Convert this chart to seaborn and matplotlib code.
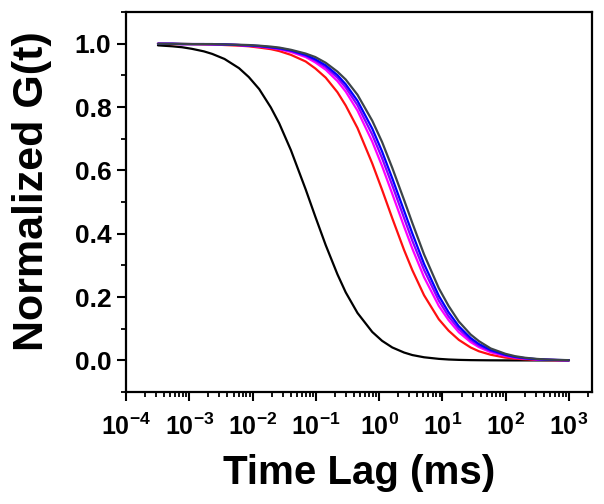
import pandas as pd
import numpy as np
import matplotlib
matplotlib.use("Agg")
import matplotlib.pyplot as plt
import matplotlib.ticker as mticker
import seaborn as sns

# time lag (ms) and normalized correlation curves
time_lag = [0.00032, 0.00054, 0.00077, 0.0011, 0.0017, 0.0023, 0.0036, 0.0061, 0.0087,
            0.0127, 0.0194, 0.0263, 0.0403, 0.069, 0.098, 0.143, 0.219, 0.296, 0.454,
            0.777, 1.11, 1.61, 2.47, 3.34, 5.11, 8.75, 12.5, 18.1, 27.8, 37.6, 57.6,
            98.5, 140, 204, 313, 424, 649, 994]

g_black = [0.995, 0.992, 0.989, 0.984, 0.976, 0.968, 0.952, 0.923, 0.895,
           0.857, 0.799, 0.749, 0.664, 0.540, 0.454, 0.364, 0.272, 0.215, 0.150, 0.090, 0.062,
           0.041, 0.025, 0.017, 0.010, 0.005, 0.003, 0.0018, 0.0010, 0.0007, 0.0004, 0.0002,
           0.0001, 0.0001, 0.0, 0.0, 0.0, 0.0]
g_red = [1.000, 0.999, 0.999, 0.999, 0.998, 0.998, 0.996, 0.994, 0.992,
         0.988, 0.983, 0.977, 0.965, 0.944, 0.922, 0.893, 0.847, 0.805, 0.734, 0.622, 0.539,
         0.449, 0.349, 0.285, 0.206, 0.130, 0.094, 0.065, 0.041, 0.029, 0.018, 0.009,
         0.0058, 0.0035, 0.0020, 0.0013, 0.0007, 0.0004]
g_magenta = [1.000, 1.000, 0.999, 0.999, 0.999, 0.998, 0.997, 0.996, 0.994,
             0.991, 0.987, 0.983, 0.974, 0.958, 0.941, 0.918, 0.882, 0.849, 0.789, 0.691, 0.614,
             0.526, 0.423, 0.353, 0.263, 0.172, 0.127, 0.089, 0.058, 0.042, 0.026, 0.014,
             0.0087, 0.0053, 0.0031, 0.0020, 0.0011, 0.0006]
g_violet = [1.000, 1.000, 0.999, 0.999, 0.999, 0.998, 0.998, 0.996, 0.994,
            0.992, 0.988, 0.984, 0.977, 0.962, 0.947, 0.926, 0.893, 0.862, 0.806, 0.713, 0.639,
            0.553, 0.450, 0.378, 0.286, 0.189, 0.139, 0.099, 0.065, 0.047, 0.030, 0.016,
            0.0100, 0.0062, 0.0035, 0.0024, 0.0013, 0.0007]
g_blue = [1.000, 1.000, 0.999, 0.999, 0.999, 0.999, 0.998, 0.996, 0.995,
          0.993, 0.989, 0.986, 0.979, 0.965, 0.951, 0.932, 0.901, 0.872, 0.820, 0.732, 0.660,
          0.575, 0.473, 0.401, 0.305, 0.204, 0.152, 0.108, 0.071, 0.052, 0.033, 0.018,
          0.0113, 0.0070, 0.0040, 0.0027, 0.0015, 0.0008]
g_grey = [1.000, 1.000, 1.000, 0.999, 0.999, 0.999, 0.998, 0.997, 0.996,
          0.994, 0.991, 0.988, 0.981, 0.969, 0.958, 0.940, 0.912, 0.887, 0.839, 0.757, 0.690,
          0.608, 0.507, 0.434, 0.335, 0.228, 0.172, 0.123, 0.082, 0.061, 0.038, 0.021,
          0.0135, 0.0084, 0.0048, 0.0032, 0.0018, 0.0009]

series = {"black": g_black, "red": g_red, "magenta": g_magenta,
          "violet": g_violet, "blue": g_blue, "grey": g_grey}
colors = {"black": "#000000", "red": "#ff1010", "magenta": "#ff00ff",
          "violet": "#8a00ff", "blue": "#0000ff", "grey": "#3c4448"}

frames = []
for name, vals in series.items():
    assert len(vals) == len(time_lag), name
    frames.append(pd.DataFrame({"t": time_lag, "g": vals, "curve": name}))
df = pd.concat(frames, ignore_index=True)

sns.set_style("ticks")
plt.rcParams["font.family"] = ["Liberation Sans", "DejaVu Sans"]
plt.rcParams["font.weight"] = "bold"
plt.rcParams["text.color"] = "black"
plt.rcParams["axes.labelcolor"] = "black"
plt.rcParams["xtick.color"] = "black"
plt.rcParams["ytick.color"] = "black"
plt.rcParams["mathtext.fontset"] = "custom"
plt.rcParams["mathtext.rm"] = "Liberation Sans:bold"
plt.rcParams["mathtext.bf"] = "Liberation Sans:bold"
plt.rcParams["mathtext.it"] = "Liberation Sans:bold"

fig = plt.figure(figsize=(6.04, 5.04), dpi=100)
ax = fig.add_axes([0.2086, 0.222, 0.7715, 0.754])

sns.lineplot(data=df, x="t", y="g", hue="curve", palette=colors,
             linewidth=1.6, legend=False, ax=ax, sort=False)

ax.set_xscale("log")
ax.set_xlim(1e-4, 2300)
ax.set_ylim(-0.1, 1.1)

ax.xaxis.set_major_locator(mticker.LogLocator(base=10, numticks=20))
ax.xaxis.set_minor_locator(mticker.LogLocator(base=10, subs=np.arange(2, 10), numticks=20))
ax.xaxis.set_minor_formatter(mticker.NullFormatter())
ax.yaxis.set_major_locator(mticker.MultipleLocator(0.2))
ax.yaxis.set_minor_locator(mticker.MultipleLocator(0.1))
ax.yaxis.set_major_formatter(mticker.FormatStrFormatter("%.1f"))

ax.tick_params(which="major", direction="out", length=6.5, width=1.5, color="black")
ax.tick_params(which="minor", direction="out", length=3.5, width=1.3, color="black")
ax.tick_params(axis="y", which="major", labelsize=19, pad=4, labelcolor="black")
ax.tick_params(axis="x", which="major", labelsize=18, pad=9, labelcolor="black")
ax.tick_params(top=False, right=False, which="both")
for lab in ax.get_yticklabels():
    lab.set_fontweight("bold")

for sp in ax.spines.values():
    sp.set_visible(True)
    sp.set_linewidth(1.6)
    sp.set_color("black")

ax.set_xlabel("Time Lag (ms)", fontsize=29, fontweight="bold", labelpad=10, color="black")
ax.set_ylabel("Normalized G(t)", fontsize=31, fontweight="bold", color="black")
ax.yaxis.set_label_coords(-0.158, 0.53)

fig.savefig("out.png", dpi=100)
